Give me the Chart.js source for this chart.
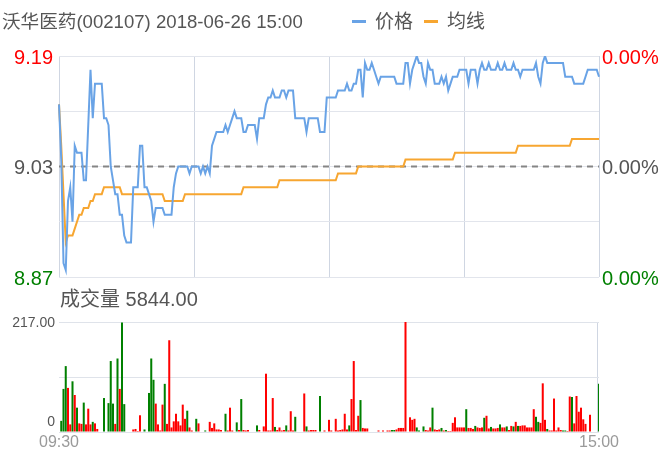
<!DOCTYPE html>
<html><head><meta charset="utf-8">
<script src="https://cdn.jsdelivr.net/npm/chart.js@4/dist/chart.umd.min.js"></script>
<style>
html,body{margin:0;padding:0;background:#fff;}
#wrap{position:relative;width:660px;height:462px;overflow:hidden;font-family:"Liberation Sans","Noto Sans CJK SC",sans-serif;}
canvas{position:absolute;left:0;top:0;}
.t{position:absolute;white-space:nowrap;color:#555;}
.mk{position:absolute;height:3px;width:14px;}
</style></head><body>
<div id="wrap">
<canvas id="c1" width="660" height="295"></canvas>
<canvas id="c2" width="660" height="462"></canvas>
<div class="t" id="title" style="left:2px;top:12px;font-size:18.6px;line-height:19px;"></div>
<div class="mk" id="mk1" style="left:352px;top:20px;background:#69a3e6;"></div>
<div class="t" id="lg1" style="left:375px;top:12px;font-size:19px;line-height:19px;"></div>
<div class="mk" id="mk2" style="left:424px;top:20px;background:#f7a631;"></div>
<div class="t" id="lg2" style="left:447px;top:12px;font-size:19px;line-height:19px;"></div>
<div class="t" id="vt" style="left:60px;top:289px;font-size:20px;line-height:20px;"></div>
</div>
<script>
const titleText = '沃华医药(002107) 2018-06-26 15:00';
const seriesNames = ['价格', '均线'];
const volTitle = '成交量 5844.00';

const preClose = 9.03;
const yMin = 8.87, yMax = 9.19;
const priceTicks = [8.87, 8.95, 9.03, 9.11, 9.19];
const priceTickLabels = ['8.87', '', '9.03', '', '9.19'];
const pctTickLabels = ['0.00%', '', '0.00%', '', '0.00%'];
const tickColors = ['#008000', '#555555', '#555555', '#555555', '#ff0000'];
const volMax = 217;
const volTicks = [0, 108.5, 217];
const volTickLabels = ['0', '217.00'];

const times = [];
function fmt(m){ const h = Math.floor(m/60), mm = m%60; return (h<10?'0':'')+h+':'+(mm<10?'0':'')+mm; }
for (let m = 9*60+30; m <= 11*60+30; m++) times.push(fmt(m));
for (let m = 13*60+1; m <= 15*60; m++) times.push(fmt(m));

const price = [
9.12,9.04,8.89,8.88,8.98,9.00,8.95,9.06,9.05,9.05,
9.05,9.01,9.01,9.09,9.17,9.10,9.15,9.15,9.15,9.15,
9.10,9.10,9.09,9.03,9.01,8.99,8.99,8.96,8.96,8.93,
8.92,8.92,8.92,9.00,9.00,9.00,9.06,9.06,9.00,9.00,
8.99,8.98,8.95,8.97,8.97,8.97,8.97,8.96,8.96,8.96,
8.96,9.00,9.02,9.03,9.03,9.03,9.03,9.03,9.02,9.03,
9.03,9.03,9.03,9.02,9.03,9.02,9.03,9.02,9.06,9.07,
9.08,9.08,9.08,9.08,9.09,9.08,9.09,9.10,9.11,9.10,
9.10,9.10,9.08,9.08,9.09,9.09,9.09,9.09,9.07,9.10,
9.10,9.10,9.12,9.13,9.13,9.14,9.13,9.13,9.13,9.14,
9.14,9.13,9.14,9.14,9.14,9.10,9.10,9.10,9.10,9.10,
9.08,9.10,9.10,9.10,9.10,9.10,9.08,9.08,9.08,9.13,
9.13,9.13,9.13,9.13,9.14,9.14,9.14,9.14,9.15,9.14,
9.14,9.15,9.15,9.17,9.17,9.13,9.18,9.17,9.17,9.18,
9.17,9.16,9.15,9.16,9.16,9.16,9.16,9.16,9.16,9.16,
9.15,9.15,9.15,9.15,9.18,9.18,9.15,9.17,9.18,9.19,
9.18,9.18,9.16,9.15,9.18,9.17,9.17,9.15,9.15,9.15,
9.16,9.15,9.16,9.14,9.15,9.16,9.16,9.16,9.17,9.17,
9.17,9.17,9.15,9.17,9.17,9.17,9.15,9.17,9.18,9.17,
9.17,9.18,9.17,9.17,9.17,9.18,9.17,9.17,9.18,9.17,
9.17,9.17,9.18,9.17,9.17,9.16,9.17,9.17,9.17,9.17,
9.17,9.17,9.18,9.16,9.15,9.18,9.19,9.18,9.18,9.18,
9.18,9.18,9.18,9.18,9.18,9.16,9.16,9.16,9.16,9.15,
9.15,9.15,9.15,9.15,9.16,9.17,9.17,9.17,9.17,9.17,9.16
];

const avgPrice = [
9.12,9.06,8.99,8.92,8.93,8.93,8.93,8.94,8.95,8.96,
8.96,8.97,8.97,8.97,8.98,8.98,8.99,8.99,8.99,8.99,
9.00,9.00,9.00,9.00,9.00,9.00,9.00,9.00,8.99,8.99,
8.99,8.99,8.99,8.99,8.99,8.99,8.99,8.99,8.99,8.99,
8.99,8.99,8.99,8.99,8.99,8.99,8.99,8.98,8.98,8.98,
8.98,8.98,8.98,8.98,8.98,8.98,8.99,8.99,8.99,8.99,
8.99,8.99,8.99,8.99,8.99,8.99,8.99,8.99,8.99,8.99,
8.99,8.99,8.99,8.99,8.99,8.99,8.99,8.99,8.99,8.99,
8.99,8.99,9.00,9.00,9.00,9.00,9.00,9.00,9.00,9.00,
9.00,9.00,9.00,9.00,9.00,9.00,9.00,9.00,9.01,9.01,
9.01,9.01,9.01,9.01,9.01,9.01,9.01,9.01,9.01,9.01,
9.01,9.01,9.01,9.01,9.01,9.01,9.01,9.01,9.01,9.01,
9.01,9.01,9.01,9.01,9.02,9.02,9.02,9.02,9.02,9.02,
9.02,9.02,9.02,9.03,9.03,9.03,9.03,9.03,9.03,9.03,
9.03,9.03,9.03,9.03,9.03,9.03,9.03,9.03,9.03,9.03,
9.03,9.03,9.03,9.03,9.04,9.04,9.04,9.04,9.04,9.04,
9.04,9.04,9.04,9.04,9.04,9.04,9.04,9.04,9.04,9.04,
9.04,9.04,9.04,9.04,9.04,9.04,9.05,9.05,9.05,9.05,
9.05,9.05,9.05,9.05,9.05,9.05,9.05,9.05,9.05,9.05,
9.05,9.05,9.05,9.05,9.05,9.05,9.05,9.05,9.05,9.05,
9.05,9.05,9.05,9.05,9.06,9.06,9.06,9.06,9.06,9.06,
9.06,9.06,9.06,9.06,9.06,9.06,9.06,9.06,9.06,9.06,
9.06,9.06,9.06,9.06,9.06,9.06,9.06,9.06,9.07,9.07,
9.07,9.07,9.07,9.07,9.07,9.07,9.07,9.07,9.07,9.07,9.07
];

const volume = [
0,22,85,130,87,15,100,73,48,17,
16,58,15,46,15,20,17,6,0,0,
67,0,57,140,56,16,145,85,216,55,
0,0,0,5,6,2,33,0,5,0,
77,145,103,56,15,3,54,95,16,181,
9,21,36,21,13,54,26,42,9,3,
0,26,17,0,0,3,0,20,8,17,
5,5,4,0,36,3,48,3,0,19,
4,65,4,3,4,1,0,0,13,4,
0,11,115,3,3,67,10,4,9,3,
4,13,3,41,3,30,1,0,0,76,
11,3,4,4,4,1,71,0,3,0,
24,3,0,26,3,4,5,36,5,13,
65,140,4,32,63,8,7,7,1,1,
1,0,3,0,3,0,3,3,4,4,
5,8,8,8,217,0,29,24,26,9,
3,0,11,4,3,9,48,5,4,5,
8,3,4,2,2,18,29,9,9,9,
9,45,8,8,6,12,9,8,9,28,
32,7,10,7,7,8,15,9,9,11,
4,12,11,20,12,12,13,13,9,9,
9,45,30,20,18,96,24,6,3,3,
66,3,9,4,3,3,2,70,69,17,
71,40,48,25,16,0,34,0,0,0,95
];

const volDir = [
1,-1,-1,-1,1,1,-1,1,-1,1,
1,-1,1,1,1,-1,1,1,1,1,
-1,1,-1,-1,-1,1,-1,1,-1,-1,
1,1,1,1,1,1,1,1,-1,1,
-1,-1,-1,1,1,1,1,-1,1,1,
1,1,1,1,1,1,1,-1,1,1,
1,-1,1,1,1,-1,1,1,1,1,
1,1,1,1,-1,1,1,1,1,-1,
1,-1,1,1,1,1,1,1,-1,1,
1,1,1,1,1,1,-1,1,1,1,
1,-1,1,1,1,-1,1,1,1,1,
-1,1,1,1,1,1,-1,1,1,1,
1,1,1,1,1,1,1,1,1,-1,
1,1,1,1,-1,1,1,1,-1,-1,
-1,1,1,1,1,1,1,1,-1,-1,
1,1,1,1,1,1,1,1,1,-1,
-1,1,-1,1,1,1,-1,1,1,1,
-1,1,-1,1,1,1,1,1,1,1,
1,-1,1,1,1,-1,1,1,1,-1,
1,1,-1,1,1,1,-1,1,1,-1,
1,1,-1,1,-1,1,1,1,1,1,
1,1,-1,-1,1,1,1,-1,1,1,
1,1,1,1,-1,-1,1,1,-1,1,
1,1,1,1,1,1,1,1,1,1,-1
];

document.getElementById('title').textContent = titleText;
document.getElementById('lg1').textContent = seriesNames[0];
document.getElementById('lg2').textContent = seriesNames[1];
document.getElementById('vt').textContent = volTitle;

const FONT = '"Liberation Sans", "Noto Sans CJK SC", sans-serif';
Chart.defaults.font.family = FONT;
const last = times.length - 1;

new Chart(document.getElementById('c1'), {
  type: 'line',
  data: {
    labels: times,
    datasets: [
      {data: price, borderColor: '#69a3e6', borderWidth: 2, pointRadius: 0, tension: 0, yAxisID: 'y'},
      {data: avgPrice, borderColor: '#f7a631', borderWidth: 2, pointRadius: 0, tension: 0, yAxisID: 'y'},
      {data: times.map(() => preClose), borderColor: '#858585', borderWidth: 2, borderDash: [6, 5], pointRadius: 0, yAxisID: 'y'}
    ]
  },
  options: {
    responsive: false, animation: false, events: [],
    layout: {padding: {top: 56, bottom: 18, left: 0, right: 0}},
    plugins: {legend: {display: false}, tooltip: {enabled: false}},
    scales: {
      x: {
        type: 'category', offset: false,
        ticks: {display: false, autoSkip: false},
        grid: {color: c => (c.index % 60 === 0) ? '#cfd6e2' : 'rgba(0,0,0,0)', drawTicks: false},
        border: {display: false},
        afterFit: s => { s.height = 0; }
      },
      y: {
        position: 'left', min: yMin, max: yMax,
        afterBuildTicks: s => { s.ticks = priceTicks.map(v => ({value: v})); },
        ticks: {callback: (v, i) => priceTickLabels[i], color: c => tickColors[c.index], font: {size: 20}, padding: 6, labelOffset: 2},
        grid: {color: '#e2e5ec', drawTicks: false},
        border: {display: false},
        afterFit: s => { s.width = 59; }
      },
      y1: {
        position: 'right', min: yMin, max: yMax,
        afterBuildTicks: s => { s.ticks = priceTicks.map(v => ({value: v})); },
        ticks: {callback: (v, i) => pctTickLabels[i], color: c => tickColors[c.index], font: {size: 20}, padding: 3, labelOffset: 2},
        grid: {display: false, drawTicks: false},
        border: {display: false},
        afterFit: s => { s.width = 61; }
      }
    }
  }
});

const volLabelPlugin = {
  id: 'volLabels',
  afterDraw(chart) {
    const y = chart.scales.y, ctx = chart.ctx;
    ctx.save();
    ctx.font = '14px ' + FONT;
    ctx.fillStyle = '#555555';
    ctx.textAlign = 'right';
    ctx.textBaseline = 'middle';
    ctx.fillText(volTickLabels[1], y.right - 4, y.getPixelForValue(volTicks[2]) + 1);
    ctx.textBaseline = 'alphabetic';
    ctx.fillText(volTickLabels[0], y.right - 4, y.getPixelForValue(volTicks[0]) - 6);
    ctx.restore();
  }
};

new Chart(document.getElementById('c2'), {
  type: 'bar',
  data: {
    labels: times,
    datasets: [{
      data: volume,
      backgroundColor: volDir.map(d => d > 0 ? '#ff0000' : '#008000'),
      borderWidth: 0, barPercentage: 1, categoryPercentage: 0.9
    }]
  },
  options: {
    responsive: false, animation: false, events: [],
    layout: {padding: {top: 322, left: 0, right: 61, bottom: 0}},
    plugins: {legend: {display: false}, tooltip: {enabled: false}},
    scales: {
      x: {
        offset: false,
        grid: {color: c => (c.index === 0 || c.index === last) ? '#cfd6e2' : 'rgba(0,0,0,0)', drawTicks: false},
        border: {display: false},
        ticks: {autoSkip: false, maxRotation: 0, minRotation: 0, padding: 1, color: '#9a9a9a', font: {size: 16},
          callback: (v, i) => (i === 0 || i === last) ? times[i] : ''},
        afterFit: s => { s.height = 30; }
      },
      y: {
        min: 0, max: volMax,
        afterBuildTicks: s => { s.ticks = volTicks.map(v => ({value: v})); },
        ticks: {display: false},
        grid: {color: '#dfe3ea', drawTicks: false},
        border: {display: false},
        afterFit: s => { s.width = 59; }
      }
    }
  },
  plugins: [volLabelPlugin]
});
</script>
</body></html>
